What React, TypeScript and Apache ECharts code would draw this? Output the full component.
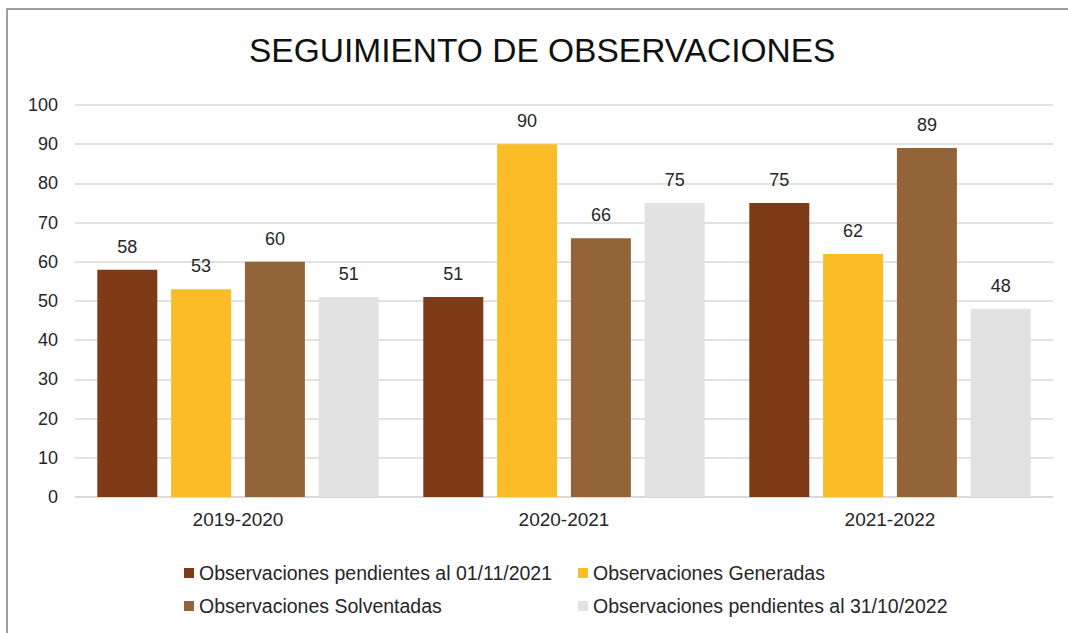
import React, { useEffect, useRef } from "react";
import * as echarts from "echarts";

const categories = ["2019-2020", "2020-2021", "2021-2022"];
const seriesNames = [
  "Observaciones pendientes al 01/11/2021",
  "Observaciones Generadas",
  "Observaciones Solventadas",
  "Observaciones pendientes al 31/10/2022",
];
const pendientes2021 = [58, 51, 75];
const generadas = [53, 90, 62];
const solventadas = [60, 66, 89];
const pendientes2022 = [51, 75, 48];
const colors = ["#7F3B17", "#FBBD27", "#93643A", "#E2E2E2"];
const yTicks = { min: 0, max: 100, interval: 10 };

const FONT = "'Liberation Sans', Arial, sans-serif";

export default function App() {
  const ref = useRef<HTMLDivElement>(null);
  useEffect(() => {
    if (!ref.current) return;
    const chart = echarts.init(ref.current, null, { renderer: "svg" });
    const values = [pendientes2021, generadas, solventadas, pendientes2022];
    const legendPos = [
      { left: 184, top: 563 },
      { left: 578, top: 563 },
      { left: 184, top: 596 },
      { left: 578, top: 596 },
    ];
    chart.setOption({
      animation: false,
      backgroundColor: "#ffffff",
      title: {
        text: "SEGUIMIENTO DE OBSERVACIONES",
        left: 249,
        top: 33,
        padding: 0,
        textStyle: { fontFamily: FONT, fontSize: 33.5, fontWeight: "normal", color: "#111111" },
      },
      graphic: [
        {
          type: "rect",
          shape: { x: 7, y: 9, width: 1200, height: 800 },
          style: { fill: "none", stroke: "#808080", lineWidth: 1.5 },
          silent: true,
        },
      ],
      legend: seriesNames.map((n, i) => ({
        data: [n],
        left: legendPos[i].left,
        top: legendPos[i].top,
        padding: 0,
        icon: "rect",
        itemWidth: 10,
        itemHeight: 10,
        itemGap: 0,
        selectedMode: false,
        textStyle: { fontFamily: FONT, fontSize: 19.5, color: "#262626" },
      })),
      grid: { left: 75, right: 15, top: 105, bottom: 136, containLabel: false },
      xAxis: {
        type: "category",
        data: categories,
        axisTick: { show: false },
        axisLine: { show: true, lineStyle: { color: "#D9D9D9", width: 1.5 } },
        axisLabel: { fontFamily: FONT, fontSize: 19, color: "#262626", margin: 13 },
      },
      yAxis: {
        type: "value",
        min: yTicks.min,
        max: yTicks.max,
        interval: yTicks.interval,
        axisLine: { show: false },
        axisTick: { show: false },
        splitLine: { lineStyle: { color: "#D9D9D9", width: 1.5 } },
        axisLabel: { fontFamily: FONT, fontSize: 18, color: "#262626", margin: 17 },
      },
      series: seriesNames.map((n, i) => ({
        name: n,
        type: "bar",
        data: values[i],
        barWidth: 60,
        barGap: "23%",
        itemStyle: { color: colors[i] },
        label: {
          show: true,
          position: "top",
          distance: 14,
          fontFamily: FONT,
          fontSize: 18,
          color: "#262626",
        },
      })),
    });
    return () => chart.dispose();
  }, []);
  return (
    <div
      ref={ref}
      style={{ position: "absolute", left: 0, top: 0, width: 1068, height: 633, background: "#fff" }}
    />
  );
}
